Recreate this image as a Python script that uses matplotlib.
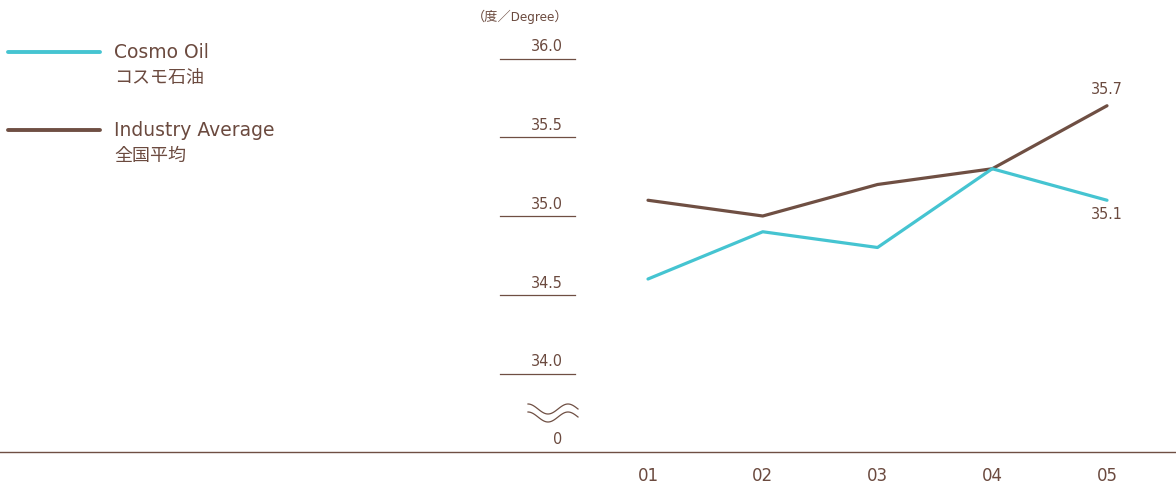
import matplotlib
matplotlib.use('Agg')

import matplotlib.pyplot as plt
import matplotlib.transforms as mtransforms
import numpy as np

# data
years = ['01', '02', '03', '04', '05']
cosmo_oil = [34.6, 34.9, 34.8, 35.3, 35.1]
industry_avg = [35.1, 35.0, 35.2, 35.3, 35.7]
y_ticks = [34.0, 34.5, 35.0, 35.5, 36.0]

CYAN = '#45c4d1'
BROWN = '#6f4f43'
TEXT = '#6b4a3f'

NARROW = dict(family=['DejaVu Sans'], fontstretch='condensed')
JP = ['Noto Sans CJK JP', 'DejaVu Sans']

W, H = 1176, 487
fig = plt.figure(figsize=(W / 100, H / 100), dpi=100)
ax = fig.add_axes([0, 0, 1, 1])
ax.set_axis_off()

# scale: pixel 648 -> first year, step 114.75 px; 35.0 at pixel y 216, 157.5 px per unit
x0, dx = 648, 114.75
ax.set_xlim(-x0 / dx, (W - x0) / dx)
ax.set_ylim(35 - (H - 216) / 157.5, 35 + 216 / 157.5)

xs = np.arange(len(years))
ax.plot(xs, industry_avg, color=BROWN, lw=2.3, solid_capstyle='round', solid_joinstyle='round', zorder=3)
ax.plot(xs, cosmo_oil, color=CYAN, lw=2.3, solid_capstyle='round', solid_joinstyle='round', zorder=4)

# y grid stubs + labels
ytrans = mtransforms.blended_transform_factory(ax.transAxes, ax.transData)
for v in y_ticks:
    ax.plot([500 / W, 575 / W], [v, v], color=BROWN, lw=0.9, transform=ytrans)
    ax.annotate(f'{v:.1f}', xy=(563 / W, v), xycoords=ytrans, xytext=(0, 3),
                textcoords='offset points', ha='right', va='bottom',
                fontsize=11.5, color=TEXT, **NARROW)

# unit label
fig.text(520 / W, 1 - 17 / H, '（度／Degree）', ha='center', va='center',
         fontsize=9.5, color=TEXT, family=['DejaVu Sans', 'Noto Sans CJK JP'],
         fontstretch='condensed')

# axis break symbol and zero
t = np.linspace(0, 1, 60)
wx = (528 + 50 * t) / W
for off in (0, 8):
    wy = 1 - (409 + off - 5 * np.cos(2.5 * np.pi * t)) / H
    ax.plot(wx, wy, color=BROWN, lw=0.9, transform=ax.transAxes)
fig.text(558 / W, 1 - 440 / H, '0', ha='center', va='center', fontsize=11.5,
         color=TEXT, **NARROW)

# baseline
ax.axhline(35 - (452 - 216) / 157.5, color=BROWN, lw=1.0)

# x labels
xtrans = mtransforms.blended_transform_factory(ax.transData, ax.transAxes)
for i, lab in enumerate(years):
    ax.text(i, 1 - 476 / H, lab, ha='center', va='center', fontsize=12,
            color=TEXT, family='DejaVu Sans', transform=xtrans)

# end value labels
ax.annotate(f'{industry_avg[-1]:.1f}', xy=(xs[-1], industry_avg[-1]), xytext=(0, 6),
            textcoords='offset points', ha='center', va='bottom', fontsize=11.5,
            color=TEXT, **NARROW)
ax.annotate(f'{cosmo_oil[-1]:.1f}', xy=(xs[-1], cosmo_oil[-1]), xytext=(0, -5),
            textcoords='offset points', ha='center', va='top', fontsize=11.5,
            color=TEXT, **NARROW)

# legend drawn by hand
legend = [(CYAN, 'Cosmo Oil', 'コスモ石油', 52), (BROWN, 'Industry Average', '全国平均', 130)]
for col, en, jp, py in legend:
    fig.add_artist(plt.Line2D([8 / W, 100 / W], [1 - py / H, 1 - py / H], color=col,
                              lw=2.8, solid_capstyle='round'))
    fig.text(114 / W, 1 - py / H, en, ha='left', va='center', fontsize=13.5,
             color=TEXT, family='DejaVu Sans')
    fig.text(114 / W, 1 - (py + 26) / H, jp, ha='left', va='center', fontsize=13,
             color=TEXT, family=JP)

fig.savefig('out.png', dpi=100)
